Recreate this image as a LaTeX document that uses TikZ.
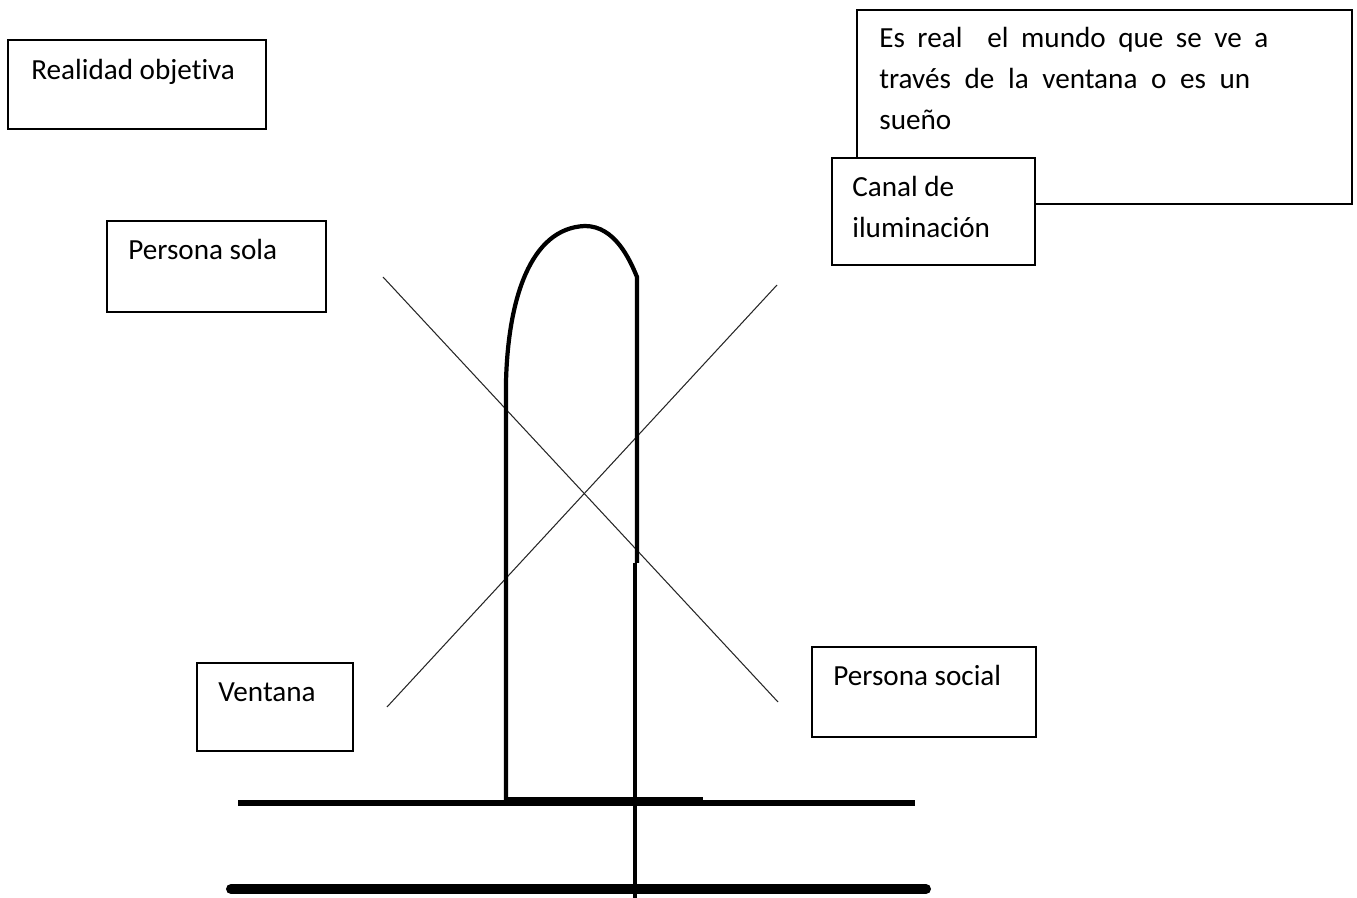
\documentclass[tikz,border=0pt]{standalone}
\usepackage{fontspec}
\setmainfont{Carlito}[Ligatures=NoCommon]
\usetikzlibrary{positioning}

\begin{document}
\begin{tikzpicture}[x=0.02cm,y=-0.02cm,
  box/.style={draw=black,line width=1.1pt},
  txt/.style={anchor=base west,inner sep=0pt,font=\fontsize{16.6}{23}\selectfont},
  cruz/.style={black!85,line width=0.6pt},
  muro/.style={line width=2.4pt}]
\useasboundingbox (0,0) rectangle (1357,898);
% cajas de texto
\draw[box] (8,40) rectangle (266,129);
\node[txt] (realidad) at (31,80) {Realidad objetiva};
\draw[box] (107,221) rectangle (326,312);
\node[txt] (sola) at (128,260) {Persona sola};
\draw[box,line width=1.4pt] (857,10) rectangle (1352,204);
\node[txt] (preg1) at (879,48) {\makebox[7.78cm][s]{Es real\ \ el mundo que se ve a}};
\node[txt] (preg2) at (879,89) {\makebox[7.42cm][s]{través de la ventana o es un}};
\node[txt] (preg3) at (879,130) {sueño};
\draw[box,fill=white] (832,158) rectangle (1035,265);
\node[txt] (canal1) at (852,197) {Canal de};
\node[txt] (canal2) at (852,238) {iluminación};
\draw[box] (197,663) rectangle (353,751);
\node[txt] (ventana) at (218,702) {Ventana};
\draw[box] (812,647) rectangle (1036,737);
\node[txt] (social) at (833,685) {Persona social};
% las dos diagonales
\draw[cruz] (383,277) -- (778,702);
\draw[cruz] (387,707) -- (777,285);
% canal con arco
\draw[muro] (506,800) -- (506,382)
  .. controls (508,300) and (530,228) .. (585,226)
  .. controls (615,226) and (630,260) .. (637,277) -- (637,563);
\draw[muro] (635,563) -- (635,898);
\draw[line width=2.4pt] (506,799) -- (703,799);
% suelo
\draw[line width=3.4pt] (238,803) -- (915,803);
\draw[line width=5.7pt,line cap=round] (231,889) -- (926,889);
\end{tikzpicture}
\end{document}
